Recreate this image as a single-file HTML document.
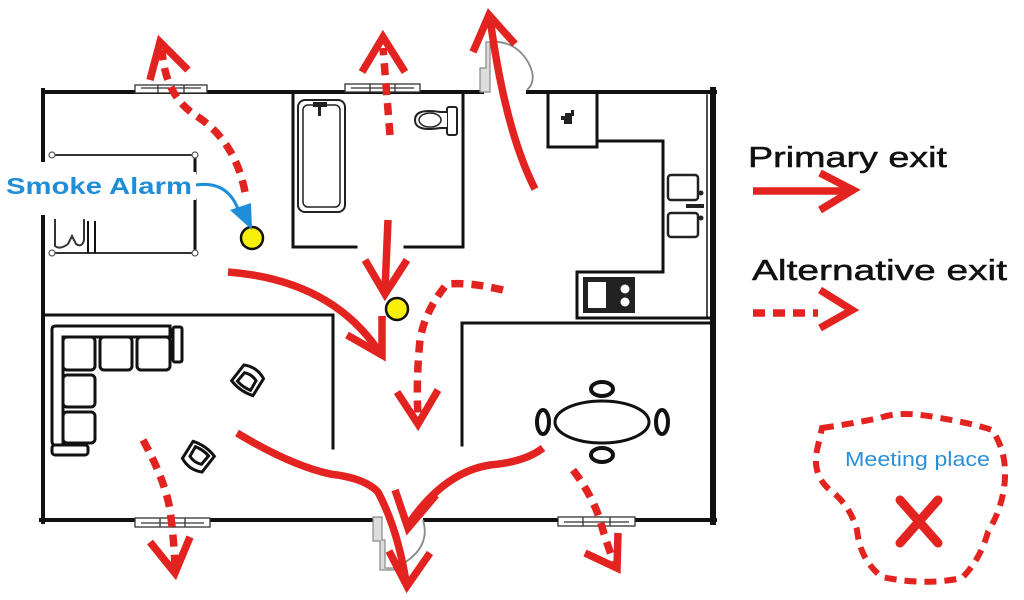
<!DOCTYPE html>
<html><head><meta charset="utf-8"><style>
html,body{margin:0;padding:0;background:#fff;}
svg{display:block;}
</style></head><body>
<svg width="1024" height="600" viewBox="0 0 1024 600" xmlns="http://www.w3.org/2000/svg">
<rect width="1024" height="600" fill="#fff"/>
<g fill="none" stroke="#111" stroke-linecap="square">
  <!-- outer walls -->
  <path d="M43,92 H482" stroke-width="4"/>
  <path d="M528,92 H715" stroke-width="4"/>
  <path d="M43,90 V160 M43,217 V522" stroke-width="4"/>
  <path d="M713,90 V522" stroke-width="6"/>
  <path d="M707,95 V318" stroke-width="1.5"/>
  <path d="M41,520 H373 M425,520 H715" stroke-width="4"/>
  <!-- bathroom -->
  <path d="M293,92 V247 H356 M405,247 H463 V92" stroke-width="3"/>
  <!-- kitchen -->
  <path d="M548,92 V147 H597 V92" stroke-width="3"/>
  <path d="M597,141 H663 V272 H577 V318 H711" stroke-width="3"/>
  <path d="M462,323 H711" stroke-width="3"/>
  <!-- dining -->
  <path d="M462,323 V445" stroke-width="3"/>
  <!-- living -->
  <path d="M43,315 H333 V448" stroke-width="3"/>
  <!-- closet -->
  <path d="M52,155 H195 M52,253 H195" stroke-width="2" stroke="#333"/>
  <path d="M195,155 V173 M195,200 V253" stroke-width="3"/>
  <path d="M88,222 V252 M95,222 V252" stroke-width="2"/>
  <path d="M55,220 V246 Q60,250 68,244 L72,236 L76,244 Q82,248 84,240 V220" stroke-width="2" stroke="#333"/>
</g>
<g fill="#fff" stroke="#555" stroke-width="1.2">
  <circle cx="52" cy="155" r="3"/><circle cx="195" cy="155" r="3"/>
  <circle cx="52" cy="253" r="3"/><circle cx="195" cy="253" r="3"/>
</g>
<!-- windows -->
<g fill="#fff" stroke="#333" stroke-width="1.3">
  <rect x="135" y="85" width="72" height="8"/>
  <path d="M141,88 H201 M158,85 V93 M184,85 V93"/>
  <rect x="345" y="84" width="75" height="8"/>
  <path d="M351,88 H414 M370,84 V92 M395,84 V92"/>
  <rect x="135" y="518" width="75" height="9"/>
  <path d="M141,523 H204 M160,518 V527 M185,518 V527"/>
  <rect x="558" y="517" width="77" height="9"/>
  <path d="M564,522 H629 M583,517 V526 M610,517 V526"/>
</g>
<!-- doors -->
<g fill="#ddd" stroke="#888" stroke-width="1.2">
  <path d="M480,68 H486 V42 H490 V92 H480 Z"/>
  <path d="M373,517 H382 V540 H385 V568 H395 V570 H380 V541 H373 Z"/>
</g>
<g fill="none" stroke="#888" stroke-width="1.8">
  <path d="M490,42 Q515,40 528,62 Q538,80 527,90"/>
  <path d="M423,520 Q432,550 395,568"/>
</g>
<!-- bathtub -->
<rect x="298" y="100" width="47" height="112" rx="7" fill="none" stroke="#222" stroke-width="2"/>
<rect x="303" y="105" width="37" height="102" rx="5" fill="none" stroke="#222" stroke-width="1.5"/>
<rect x="313" y="102" width="14" height="5" fill="#222"/>
<rect x="318" y="104" width="3" height="12" fill="#222"/>
<!-- toilet -->
<rect x="447" y="107" width="10" height="28" rx="2" fill="#fff" stroke="#222" stroke-width="2"/>
<path d="M447,112 H440 Q415,108 415,120 Q415,132 440,128 H447" fill="#fff" stroke="#222" stroke-width="2"/>
<ellipse cx="430" cy="120" rx="11" ry="7" fill="none" stroke="#222" stroke-width="1.5"/>
<!-- kitchen icon -->
<path d="M565,113 h6 v-3 h3 v6 h-2 v8 h-8 v-4 h-3 v-4 h4 z" fill="#222"/>
<!-- sinks -->
<rect x="668" y="175" width="30" height="25" rx="3" fill="#fff" stroke="#222" stroke-width="2.5"/>
<rect x="668" y="213" width="30" height="24" rx="3" fill="#fff" stroke="#222" stroke-width="2.5"/>
<rect x="686" y="204" width="18" height="4" fill="#222"/>
<circle cx="701" cy="193" r="2.5" fill="#222"/><circle cx="701" cy="218" r="2.5" fill="#222"/>
<!-- stove -->
<rect x="583" y="277" width="52" height="36" fill="#222"/>
<rect x="588" y="282" width="18" height="26" fill="#fff"/>
<circle cx="625" cy="289" r="4.5" fill="#fff"/><circle cx="625" cy="302" r="4.5" fill="#fff"/>
<!-- sofa -->
<g fill="#fff" stroke="#111" stroke-width="3">
  <path d="M52,329 Q52,326 56,326 H170 V337 H63 V445 H55 Q52,445 52,441 Z"/>
  <rect x="173" y="327" width="9" height="35" rx="2"/>
  <rect x="52" y="445" width="36" height="10" rx="3"/>
  <rect x="63" y="337" width="32" height="33" rx="4"/>
  <rect x="100" y="337" width="32" height="33" rx="4"/>
  <rect x="137" y="337" width="33" height="33" rx="4"/>
  <rect x="63" y="375" width="32" height="32" rx="4"/>
  <rect x="63" y="412" width="32" height="31" rx="4"/>
</g>
<!-- armchairs -->
<g fill="#fff" stroke="#111" stroke-width="3">
  <g transform="translate(248,380) rotate(35)">
    <path d="M-12,-10 Q0,-16 12,-10 L13,10 Q0,14 -13,10 Z"/>
    <path d="M-7,-4 Q0,-7 7,-4 L8,7 Q0,9 -8,7 Z"/>
  </g>
  <g transform="translate(198,457) rotate(-145)">
    <path d="M-12,-10 Q0,-16 12,-10 L13,10 Q0,14 -13,10 Z"/>
    <path d="M-7,-4 Q0,-7 7,-4 L8,7 Q0,9 -8,7 Z"/>
  </g>
</g>
<!-- dining table -->
<g fill="#fff" stroke="#111" stroke-width="4">
  <ellipse cx="602" cy="389" rx="11" ry="7"/>
  <ellipse cx="602" cy="455" rx="11" ry="7"/>
  <ellipse cx="543" cy="422" rx="6" ry="12"/>
  <ellipse cx="662" cy="422" rx="6" ry="12"/>
</g>
<ellipse cx="602" cy="422" rx="47" ry="21" fill="#fff" stroke="#111" stroke-width="3"/>
<!-- smoke alarms -->
<circle cx="252" cy="238" r="11" fill="#f5ef0a" stroke="#111" stroke-width="2.5"/>
<circle cx="397" cy="309" r="11" fill="#f5ef0a" stroke="#111" stroke-width="2.5"/>
<!-- smoke alarm label -->
<rect x="2" y="172" width="194" height="28" fill="#fff"/>
<text x="6" y="194" font-family="Liberation Sans, sans-serif" font-size="23" font-weight="bold" fill="#1f8ed8" textLength="186" lengthAdjust="spacingAndGlyphs">Smoke Alarm</text>
<path d="M196,185 Q230,180 240,215" fill="none" stroke="#1f8ed8" stroke-width="3"/>
<path d="M230,210 L252,230 L251,203 Z" fill="#1f8ed8"/>
<!-- red arrows -->
<g fill="none" stroke="#e2231f" stroke-width="7.5" stroke-linecap="butt" stroke-linejoin="miter">
  <path d="M535,189 Q505,130 490,18"/>
  <path d="M473,52 L489,15 L515,44"/>
  <path d="M388,220 L385,290"/>
  <path d="M365,260 L385,294 L407,260"/>
  <path d="M228,272 Q330,280 378,350"/>
  <path d="M347,335 L382,355 L382,316"/>
  <path d="M237,433 Q290,465 330,474 Q365,478 378,492 Q398,530 406,582"/>
  <path d="M389,551 L407,586 L430,553"/>
  <path d="M543,448 Q525,462 490,465 Q445,472 410,522"/>
  <path d="M395,490 L408,528 L436,495"/>
  <path d="M753,191 H850"/>
  <path d="M820,173 L853,190 L820,210"/>
  <path d="M820,290 L852,310 L820,328"/>
  <path d="M150,80 L160,42 L188,70"/>
  <path d="M362,72 L383,37 L405,72"/>
  <path d="M397,392 L418,424 L438,390"/>
  <path d="M150,542 L175,573 L190,537"/>
  <path d="M585,553 L617,568 L618,533"/>
  <path d="M900,500 L938,543 M938,500 L900,543" stroke-width="9" stroke-linecap="round"/>
</g>
<g fill="none" stroke="#e2231f" stroke-width="7.5" stroke-dasharray="12,8" stroke-linecap="butt">
  <path d="M245,192 Q235,140 195,115 Q165,95 162,50"/>
  <path d="M390,135 L383,48"/>
  <path d="M503,290 Q470,282 447,284 Q425,310 420,340 Q416,380 418,415"/>
  <path d="M143,440 Q165,480 170,510 Q174,540 175,566"/>
  <path d="M573,470 Q592,495 600,520 Q607,545 614,562"/>
  <path d="M753,313 H818"/>
  <path d="M822,428 Q850,424 880,418 Q900,410 940,418 Q975,424 992,430 Q1006,450 1005,477 Q1004,505 988,532 Q980,560 962,578 Q925,586 882,577 Q860,560 857,530 Q850,505 830,490 Q812,475 817,450 Z" stroke-width="6" stroke-dasharray="12,8"/>
</g>
<!-- legend text -->
<text x="748" y="167" font-family="Liberation Sans, sans-serif" font-size="29" fill="#111" stroke="#111" stroke-width="0.5" textLength="199" lengthAdjust="spacingAndGlyphs">Primary exit</text>
<text x="752" y="280" font-family="Liberation Sans, sans-serif" font-size="29" fill="#111" stroke="#111" stroke-width="0.5" textLength="255" lengthAdjust="spacingAndGlyphs">Alternative exit</text>
<text x="845" y="466" font-family="Liberation Sans, sans-serif" font-size="20" fill="#2a90d8" textLength="145" lengthAdjust="spacingAndGlyphs">Meeting place</text>
</svg>
</body></html>
